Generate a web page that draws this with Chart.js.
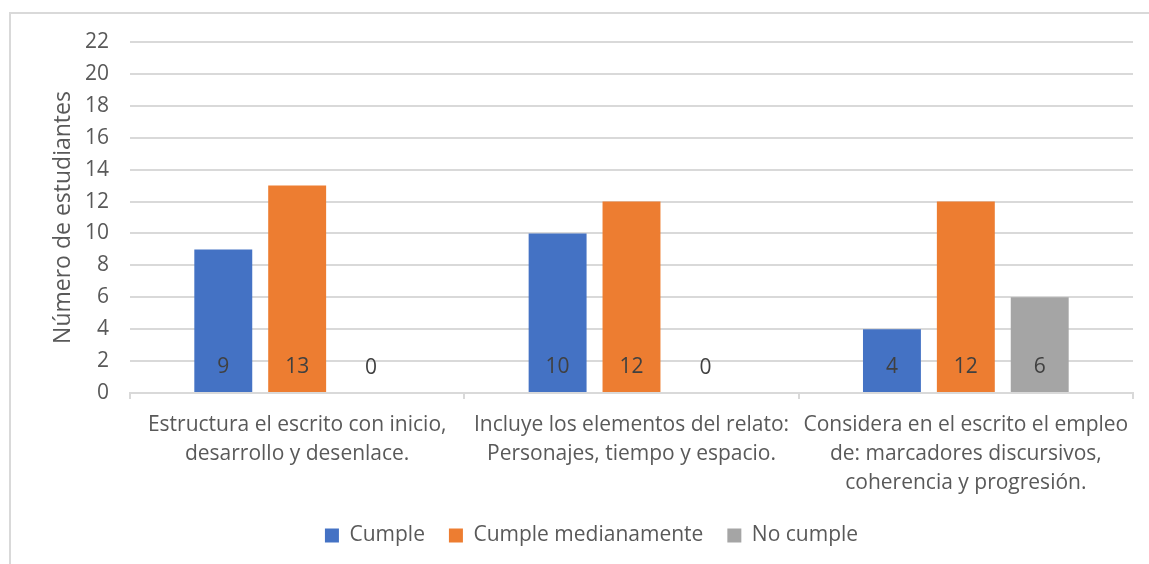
<!DOCTYPE html>
<html>
<head>
<meta charset="utf-8">
<script src="https://cdn.jsdelivr.net/npm/chart.js@4.4.1/dist/chart.umd.min.js"></script>
<style>
  html, body { margin: 0; padding: 0; background: #ffffff; }
  #wrap { position: relative; width: 1149px; height: 564px; overflow: hidden; }
  #frame { position: absolute; left: 9px; top: 12px; width: 1200px; height: 600px;
           border-left: 2px solid #d9d9d9; border-top: 2px solid #d9d9d9; box-sizing: border-box; }
  canvas { position: absolute; left: 0; top: 0; }
</style>
</head>
<body>
<div id="wrap">
  <div id="frame"></div>
  <canvas id="c" width="1149" height="564"></canvas>
</div>
<script>
const categories = [
  ["Estructura el escrito con inicio,", "desarrollo y desenlace."],
  ["Incluye los elementos del relato:", "Personajes, tiempo y espacio."],
  ["Considera en el escrito el empleo", "de: marcadores discursivos,", "coherencia y progresión."]
];
const cumple = [9, 10, 4];
const cumpleMedianamente = [13, 12, 12];
const noCumple = [0, 0, 6];
const seriesNames = ["Cumple", "Cumple medianamente", "No cumple"];
const yTicks = { min: 0, max: 22, step: 2 };
const yTitle = "Número de estudiantes";

const FONT = "'Open Sans', 'Noto Sans', sans-serif";

const valueLabels = {
  id: 'valueLabels',
  afterDatasetsDraw(chart) {
    const ctx = chart.ctx;
    ctx.save();
    ctx.font = "21px " + FONT;
    ctx.fillStyle = "#404040";
    ctx.textAlign = "center";
    ctx.textBaseline = "middle";
    chart.data.datasets.forEach((ds, i) => {
      const meta = chart.getDatasetMeta(i);
      meta.data.forEach((bar, j) => {
        ctx.fillText(String(ds.data[j]), bar.x, bar.base - 25);
      });
    });
    ctx.restore();
  }
};

new Chart(document.getElementById('c'), {
  type: 'bar',
  data: {
    labels: categories,
    datasets: [
      { label: seriesNames[0], data: cumple, backgroundColor: '#4472C4' },
      { label: seriesNames[1], data: cumpleMedianamente, backgroundColor: '#ED7D31' },
      { label: seriesNames[2], data: noCumple, backgroundColor: '#A5A5A5' }
    ]
  },
  options: {
    responsive: false,
    animation: false,
    devicePixelRatio: 1,
    categoryPercentage: 0.663,
    barPercentage: 0.784,
    layout: { padding: { left: 50, right: 16, top: 42, bottom: 8 } },
    plugins: {
      legend: {
        position: 'bottom',
        labels: {
          font: { family: FONT, size: 21 },
          color: '#595959',
          boxWidth: 14,
          boxHeight: 14,
          padding: 24
        }
      },
      tooltip: { enabled: false }
    },
    scales: {
      x: {
        grid: { display: true, drawOnChartArea: false, drawTicks: true, tickLength: 6, color: '#d9d9d9', lineWidth: 2 },
        border: { display: true, color: '#d9d9d9', width: 2 },
        ticks: { font: { family: FONT, size: 21, lineHeight: 1.4 }, color: '#595959', padding: 11, maxRotation: 0, autoSkip: false },
        afterFit(scale) { scale.height = 108; }
      },
      y: {
        min: yTicks.min, max: yTicks.max,
        grid: { color: '#d9d9d9', lineWidth: 2, drawTicks: false },
        border: { display: false },
        ticks: { stepSize: yTicks.step, font: { family: FONT, size: 21 }, color: '#595959', padding: 21 },
        title: { display: true, text: yTitle, font: { family: FONT, size: 23 }, color: '#595959', padding: 0 },
        afterFit(scale) { scale.width = 80; }
      }
    }
  },
  plugins: [valueLabels]
});
</script>
</body>
</html>
